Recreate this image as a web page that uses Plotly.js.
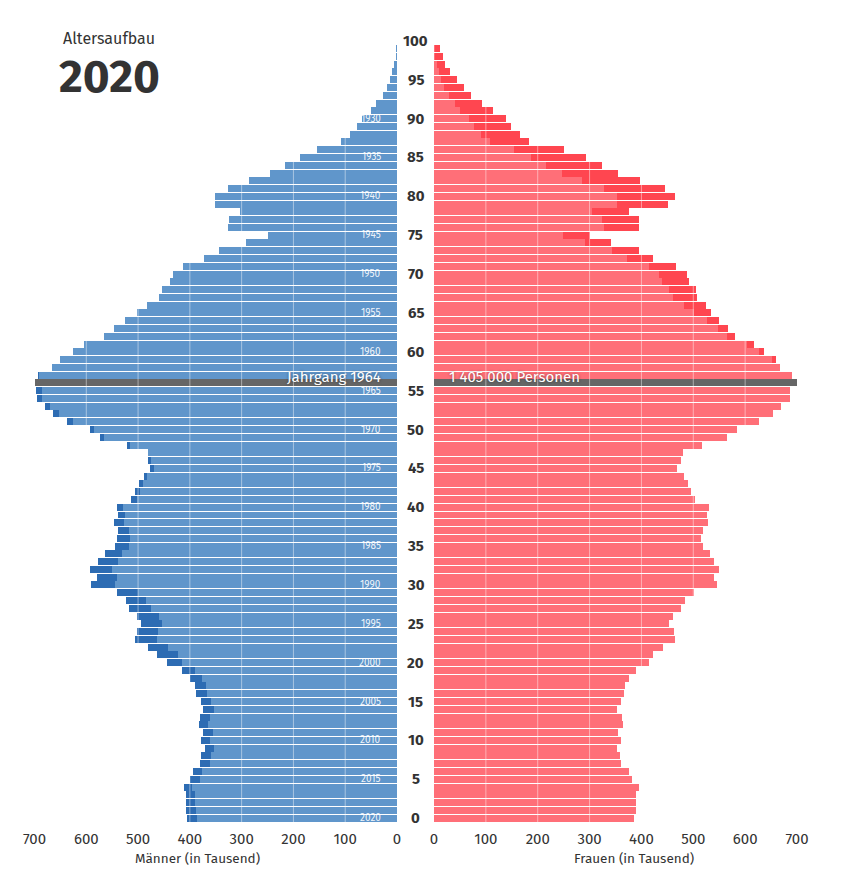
<!DOCTYPE html>
<html>
<head>
<meta charset="utf-8">
<script src="https://cdn.plot.ly/plotly-3.0.1.min.js"></script>
<style>
  body { margin: 0; background: #fff; }
  #chart { width: 847px; height: 870px; }
</style>
</head>
<body>
<div id="chart"></div>
<script>
// Altersaufbau 2020, Bevoelkerung in Tausend je Altersjahr (0 bis 99)
var ages = [0, 1, 2, 3, 4, 5, 6, 7, 8, 9,
            10, 11, 12, 13, 14, 15, 16, 17, 18, 19,
            20, 21, 22, 23, 24, 25, 26, 27, 28, 29,
            30, 31, 32, 33, 34, 35, 36, 37, 38, 39,
            40, 41, 42, 43, 44, 45, 46, 47, 48, 49,
            50, 51, 52, 53, 54, 55, 56, 57, 58, 59,
            60, 61, 62, 63, 64, 65, 66, 67, 68, 69,
            70, 71, 72, 73, 74, 75, 76, 77, 78, 79,
            80, 81, 82, 83, 84, 85, 86, 87, 88, 89,
            90, 91, 92, 93, 94, 95, 96, 97, 98, 99];

var maenner = [405, 408, 408, 408, 412, 399, 394, 380, 379, 370,
               379, 374, 383, 381, 375, 379, 388, 390, 399, 415,
               444, 463, 480, 505, 503, 494, 503, 517, 524, 540,
               590, 579, 592, 578, 564, 545, 540, 539, 547, 539,
               540, 513, 505, 499, 489, 477, 480, 481, 522, 573,
               593, 637, 665, 680, 696, 697, 705, 694, 667, 651,
               626, 604, 565, 547, 526, 502, 483, 460, 454, 439,
               433, 414, 373, 343, 292, 249, 327, 324, 304, 352,
               352, 327, 285, 246, 216, 187, 154, 108, 91, 78,
               67, 51, 40, 28, 20, 13.5, 9, 5, 2.5, 2];

var frauen = [386, 389, 390, 390, 395, 381, 376, 361, 359, 353,
              361, 355, 365, 362, 353, 360, 367, 369, 376, 390,
              415, 422, 442, 464, 462, 453, 460, 476, 484, 501,
              545, 540, 550, 539, 532, 518, 515, 518, 528, 526,
              530, 503, 496, 490, 483, 469, 476, 480, 516, 565,
              585, 626, 653, 670, 686, 686, 700, 691, 667, 660,
              636, 617, 581, 566, 550, 535, 525, 508, 505, 492,
              488, 467, 422, 396, 342, 300, 396, 396, 376, 451,
              465, 446, 397, 354, 324, 294, 251, 184, 165, 149,
              138, 114, 93, 72, 57, 45, 31, 22, 17, 11.5];

var ageTicks = [0, 5, 10, 15, 20, 25, 30, 35, 40, 45, 50,
                55, 60, 65, 70, 75, 80, 85, 90, 95, 100];
var jahrgaenge = [1930, 1935, 1940, 1945, 1950, 1955, 1960, 1965, 1970, 1975,
                  1980, 1985, 1990, 1995, 2000, 2005, 2010, 2015, 2020];
var xTicks = [0, 100, 200, 300, 400, 500, 600, 700];
var jahr = 2020;
var markJahrgang = 1964;

// Farben
var blauHell = '#6096cb', blauDunkel = '#2d6cb3';
var rotHell = '#ff6f78', rotKraeftig = '#ff4650';
var grau = '#666666', grauDunkel = '#333333';
var textFarbe = '#333333';
var fontFam = 'Fira Sans, Open Sans, Noto Sans, sans-serif';

// Pixel -> Papierkoordinaten (Plotflaeche von y=37 bis y=822)
var W = 847, TOP = 37, BOTTOM = 822;
function px(x) { return x / W; }
function py(y) { return (BOTTOM - y) / (BOTTOM - TOP); }

var markAge = jahr - markJahrgang;

var gemeinsam = [], mUeber = [], fUeber = [];
var cM = [], cMx = [], cF = [], cFx = [];
for (var i = 0; i < ages.length; i++) {
    var m = maenner[i], f = frauen[i];
    gemeinsam.push(Math.min(m, f));
    mUeber.push(Math.max(m - f, 0));
    fUeber.push(Math.max(f - m, 0));
    var mark = ages[i] === markAge;
    cM.push(mark ? grau : blauHell);
    cMx.push(mark ? grauDunkel : blauDunkel);
    cF.push(mark ? grau : rotHell);
    cFx.push(mark ? grauDunkel : rotKraeftig);
}

var base = { type: 'bar', orientation: 'h', y: ages, hoverinfo: 'skip' };
var data = [
    Object.assign({}, base, { x: gemeinsam, xaxis: 'x', yaxis: 'y', marker: { color: cM } }),
    Object.assign({}, base, { x: mUeber, xaxis: 'x', yaxis: 'y', marker: { color: cMx } }),
    Object.assign({}, base, { x: gemeinsam, xaxis: 'x2', yaxis: 'y', marker: { color: cF } }),
    Object.assign({}, base, { x: fUeber, xaxis: 'x2', yaxis: 'y', marker: { color: cFx } })
];

var annotations = [];
ageTicks.forEach(function (a) {
    annotations.push({
        xref: 'paper', yref: 'y', x: px(415.5), y: a, text: String(a),
        showarrow: false, xanchor: 'center', yanchor: 'middle',
        font: { family: fontFam, size: 15, color: textFarbe, weight: 'bold' }
    });
});
jahrgaenge.forEach(function (j) {
    annotations.push({
        xref: 'paper', yref: 'y', x: px(383), y: jahr - j, text: String(j),
        showarrow: false, xanchor: 'right', yanchor: 'middle',
        font: { family: fontFam, size: 10, color: 'rgba(255,255,255,0.9)' }
    });
});

var mi = ages.indexOf(markAge);
var summe = (maenner[mi] + frauen[mi]) * 1000;
var summeText = String(summe).replace(/\B(?=(\d{3})+(?!\d))/g, ' ');
var schatten = '0px 0px 3px rgba(0,0,0,0.45)';
annotations.push({
    xref: 'paper', yref: 'y', x: px(383), y: markAge + 0.75, text: 'Jahrgang ' + markJahrgang,
    showarrow: false, xanchor: 'right', yanchor: 'middle',
    font: { family: fontFam, size: 15, color: '#ffffff', shadow: schatten }
});
annotations.push({
    xref: 'paper', yref: 'y', x: px(447), y: markAge + 0.75, text: summeText + ' Personen',
    showarrow: false, xanchor: 'left', yanchor: 'middle',
    font: { family: fontFam, size: 15, color: '#ffffff', shadow: schatten }
});

// Titel und Achsentitel
annotations.push({
    xref: 'paper', yref: 'paper', x: px(109), y: py(38), text: 'Altersaufbau',
    showarrow: false, xanchor: 'center', yanchor: 'middle',
    font: { family: fontFam, size: 16, color: textFarbe }
});
annotations.push({
    xref: 'paper', yref: 'paper', x: px(109), y: py(76), text: String(jahr),
    showarrow: false, xanchor: 'center', yanchor: 'middle',
    font: { family: fontFam, size: 46, color: textFarbe, weight: 'bold' }
});
annotations.push({
    xref: 'paper', yref: 'paper', x: px(197), y: py(858), text: 'Männer (in Tausend)',
    showarrow: false, xanchor: 'center', yanchor: 'middle',
    font: { family: fontFam, size: 13.5, color: textFarbe }
});
annotations.push({
    xref: 'paper', yref: 'paper', x: px(634), y: py(858), text: 'Frauen (in Tausend)',
    showarrow: false, xanchor: 'center', yanchor: 'middle',
    font: { family: fontFam, size: 13.5, color: textFarbe }
});

// weisse Rasterlinien ueber den Balken
var shapes = [];
[100, 200, 300, 400, 500, 600].forEach(function (g) {
    ['x', 'x2'].forEach(function (ax) {
        shapes.push({
            type: 'line', xref: ax, yref: 'paper', x0: g, x1: g, y0: 0, y1: 1,
            layer: 'above', line: { color: 'rgba(255,255,255,0.45)', width: 1 }
        });
    });
});

var axisBase = {
    range: [0, 700], tickvals: xTicks, ticks: '', showgrid: false,
    zeroline: false, showline: false, fixedrange: true, ticklabelstandoff: 6,
    tickfont: { family: fontFam, size: 15, color: textFarbe }
};

var layout = {
    width: W, height: 870,
    margin: { l: 0, r: 0, t: TOP, b: 870 - BOTTOM },
    paper_bgcolor: '#ffffff', plot_bgcolor: '#ffffff',
    barmode: 'stack', bargap: 0.1,
    showlegend: false,
    xaxis: Object.assign({}, axisBase, { domain: [px(34.5), px(397)], range: [700, 0], anchor: 'y' }),
    xaxis2: Object.assign({}, axisBase, { domain: [px(434), px(797)], anchor: 'y' }),
    yaxis: { range: [-0.5, 100.5], showticklabels: false, showgrid: false,
             zeroline: false, showline: false, ticks: '', fixedrange: true },
    annotations: annotations,
    shapes: shapes
};

Plotly.newPlot('chart', data, layout, { displayModeBar: false, staticPlot: true });
</script>
</body>
</html>
